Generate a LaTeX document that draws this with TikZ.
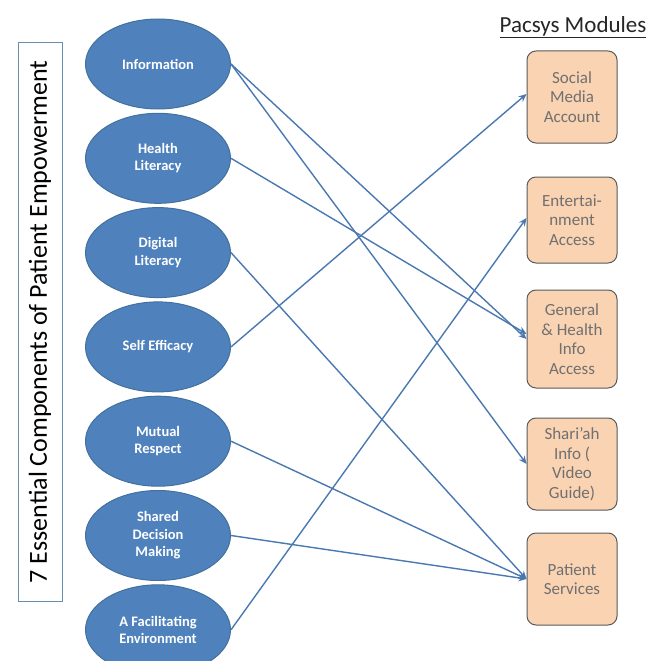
\documentclass[tikz,border=0pt]{standalone}
\usepackage{fontspec}
\setmainfont{Carlito}
\usetikzlibrary{positioning,shapes.geometric,arrows.meta}
\definecolor{compblue}{HTML}{4F81BD}
\definecolor{compedge}{HTML}{41719C}
\definecolor{linkblue}{HTML}{4A78B0}
\definecolor{modfill}{HTML}{FAD3B2}
\definecolor{modedge}{HTML}{5A5A5A}
\definecolor{modtext}{HTML}{707070}
\tikzset{
    >=Stealth[round],
    comp/.style = {ellipse, draw = compedge, fill = compblue, line width = 1pt,
                   minimum width = 145pt, minimum height = 90pt, inner sep = 0pt,
                   text = white, align = center,
                   font = \fontsize{14.5}{17.5}\selectfont\bfseries},
    module/.style = {draw = modedge, fill = modfill, rounded corners = 9pt, line width = 1pt,
                     minimum width = 90pt, minimum height = 92pt, inner sep = 0pt,
                     text = modtext, align = center,
                     font = \fontsize{17}{19.5}\selectfont},
    link/.style = {draw = linkblue, line width = 1.4pt, -{Stealth[length = 8pt, width = 7pt]}},
}

\begin{document}
\begin{tikzpicture}[x = 1pt, y = -1pt]
    \useasboundingbox (0,0) rectangle (656,661);

    \node [draw = compedge!80, line width = 1pt, minimum width = 559pt, minimum height = 44pt,
           rotate = 90, font = \fontsize{26}{30}\selectfont] (title) at (40,322)
          {7 Essential Components of Patient Empowerment};

    \node [comp] (info) at (158,64) {Information};
    \node [comp] (health)  [below = 3.3pt of info]   {Health\\Literacy};
    \node [comp] (digital) [below = 3.3pt of health] {Digital\\Literacy};
    \node [comp] (self)    [below = 3.3pt of digital] {Self Efficacy};
    \node [comp] (mutual)  [below = 3.3pt of self]   {Mutual\\Respect};
    \node [comp] (shared)  [below = 3.3pt of mutual] {Shared\\Decision\\Making};
    \node [comp] (facil)   [below = 3.3pt of shared] {A Facilitating\\Environment};

    \node [font = \fontsize{23}{26}\selectfont, text = black!85] (heading) at (573,27)
          {\underline{Pacsys Modules}};

    \node [module] (social)   at (572,97)  {Social\\Media\\Account};
    \node [module, minimum height = 86pt] (entertain) at (572,220) {Entertai-\\nment\\Access};
    \node [module, minimum height = 98pt] (general) at (572,339) {General\\\& Health\\Info\\Access};
    \node [module] (shariah)  at (572,464) {Shari'ah\\Info (\\Video\\Guide)};
    \node [module] (services) at (572,579) {Patient\\Services};

    \draw [link] (info.east)    -- (general.west);
    \draw [link] (info.east)    -- (shariah.west);
    \draw [link] (health.east)  -- ([yshift = 5pt]general.west);
    \draw [link] (digital.east) -- (services.west);
    \draw [link] (self.east)    -- ([yshift = 3pt]social.west);
    \draw [link] (mutual.east)  -- (services.west);
    \draw [link] (shared.east)  -- (services.west);
    \draw [link] (facil.east)   -- ([yshift = 2pt]entertain.west);
\end{tikzpicture}
\end{document}
